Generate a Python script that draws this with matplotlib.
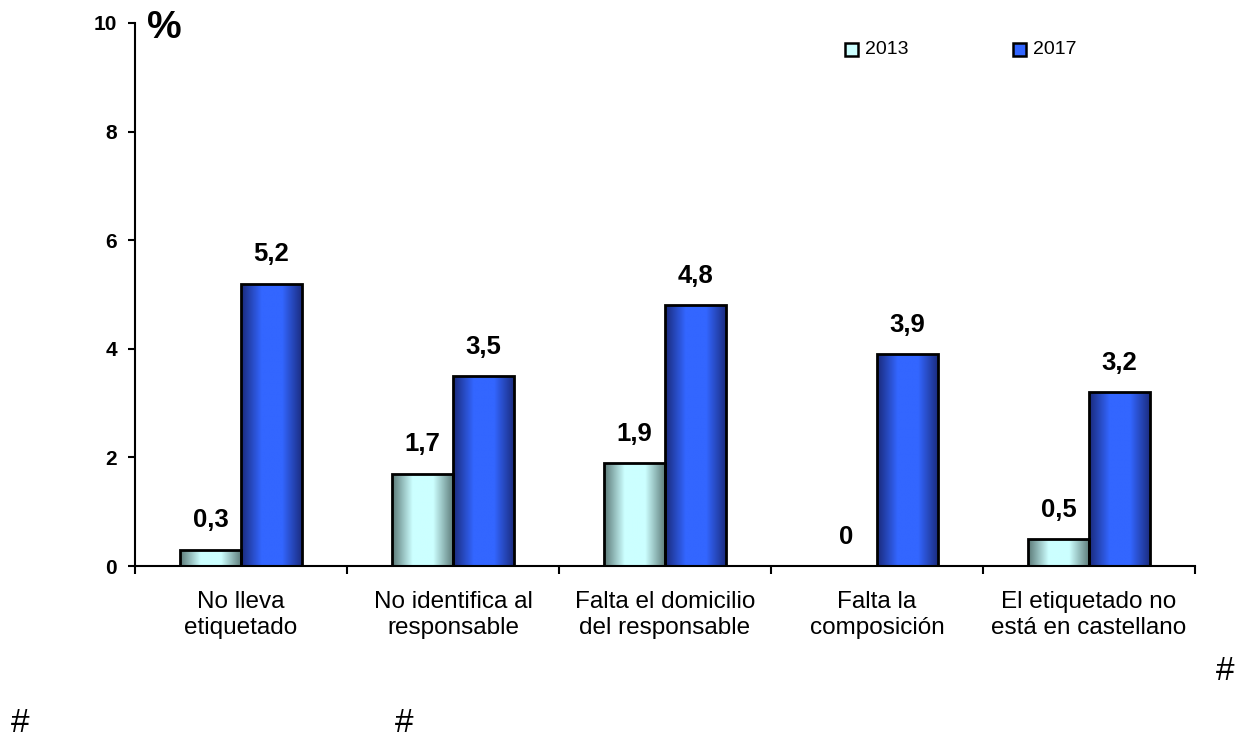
import numpy as np
import matplotlib.pyplot as plt
from matplotlib.colors import LinearSegmentedColormap
from matplotlib.patches import Rectangle

plt.rcParams['font.family'] = ['Liberation Sans', 'DejaVu Sans']

# Datos
categorias = ['No lleva\netiquetado', 'No identifica al\nresponsable',
              'Falta el domicilio\ndel responsable', 'Falta la\ncomposición',
              'El etiquetado no\nestá en castellano']
valores_2013 = [0.3, 1.7, 1.9, 0.0, 0.5]
valores_2017 = [5.2, 3.5, 4.8, 3.9, 3.2]
etiquetas_2013 = ['0,3', '1,7', '1,9', '0', '0,5']
etiquetas_2017 = ['5,2', '3,5', '4,8', '3,9', '3,2']
series = ['2013', '2017']

# Degradados horizontales (oscuro en los bordes, claro en el centro)
cmap_2013 = LinearSegmentedColormap.from_list('c13', ['#5a7876', '#ccffff', '#ccffff', '#5a7876'])
cmap_2017 = LinearSegmentedColormap.from_list('c17', ['#1a2a7a', '#3366ff', '#3366ff', '#1a2a7a'])

fig = plt.figure(figsize=(12.43, 7.38), dpi=100)
ax = fig.add_axes([135 / 1243, (738 - 566) / 738, (1195 - 135) / 1243, (566 - 23) / 738])

x = np.arange(len(categorias))
ancho = 0.288
grad = np.linspace(0, 1, 256).reshape(1, -1)


def barra_degradada(x0, h, cmap):
    if h <= 0:
        return
    rect = Rectangle((x0, 0), ancho, h, facecolor='none', edgecolor='black', linewidth=2, zorder=3)
    ax.add_patch(rect)
    im = ax.imshow(grad, cmap=cmap, extent=(x0, x0 + ancho, 0, h), aspect='auto', zorder=2,
                   interpolation='bilinear')
    im.set_clip_path(rect)


for i in range(len(categorias)):
    barra_degradada(x[i] - ancho, valores_2013[i], cmap_2013)
    barra_degradada(x[i], valores_2017[i], cmap_2017)
    ax.annotate(etiquetas_2013[i], (x[i] - ancho / 2, valores_2013[i]), xytext=(0, 16),
                textcoords='offset points', ha='center', va='baseline', fontsize=18.5, fontweight='bold')
    ax.annotate(etiquetas_2017[i], (x[i] + ancho / 2, valores_2017[i]), xytext=(0, 16),
                textcoords='offset points', ha='center', va='baseline', fontsize=18.5, fontweight='bold')

ax.set_xlim(-0.5, len(categorias) - 0.5)
ax.set_ylim(0, 10)
ax.set_yticks([0, 2, 4, 6, 8, 10])
ax.set_yticklabels(['0', '2', '4', '6', '8', '10'], fontsize=15, fontweight='bold')
ax.set_xticks(np.arange(-0.5, len(categorias)), minor=False)
ax.set_xticklabels([''] * (len(categorias) + 1))
ax.set_xticks(x, minor=True)
ax.set_xticklabels(categorias, minor=True, fontsize=17.5, linespacing=1.25)
ax.tick_params(axis='x', which='major', direction='out', length=6, width=1.5)
ax.tick_params(axis='x', which='minor', length=0, pad=18)
ax.tick_params(axis='y', direction='out', length=5, width=1.5, pad=8)
for s in ['top', 'right']:
    ax.spines[s].set_visible(False)
ax.spines['left'].set_linewidth(1.5)
ax.spines['bottom'].set_linewidth(1.5)

fig.text(147 / 1243, 1 - 28 / 738, '%', fontsize=28, fontweight='bold', va='center')

# Leyenda
for px, color, nombre in [(845, '#ccffff', series[0]), (1013, '#3366ff', series[1])]:
    fig.patches.append(Rectangle((px / 1243, 1 - 56 / 738), 13 / 1243, 13 / 738, transform=fig.transFigure,
                                 facecolor=color, edgecolor='black', linewidth=1.8))
    fig.text((px + 20) / 1243, 1 - 49 / 738, nombre, fontsize=14, va='center')

fig.text(1216 / 1243, 1 - 672 / 738, '#', fontsize=24, va='center')
fig.text(11 / 1243, 1 - 724 / 738, '#', fontsize=24, va='center')
fig.text(395 / 1243, 1 - 724 / 738, '#', fontsize=24, va='center')

plt.savefig('out.png', dpi=100)
